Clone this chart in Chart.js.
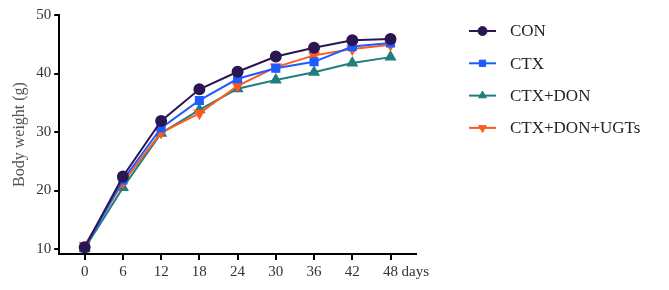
<!DOCTYPE html>
<html>
<head>
<meta charset="utf-8">
<script src="https://cdn.jsdelivr.net/npm/chart.js@4/dist/chart.umd.min.js"></script>
<style>
  html, body { margin: 0; padding: 0; background: #fff; }
  #wrap { width: 669px; height: 290px; }
</style>
</head>
<body>
<div id="wrap"><canvas id="myChart" width="669" height="290"></canvas></div>
<script>
// days of measurement
const days = [0, 6, 12, 18, 24, 30, 36, 42, 48];
const yTicks = [10, 20, 30, 40, 50];

// body weight (g) per group
const conWeight = [10.3, 22.4, 31.9, 37.3, 40.3, 42.9, 44.4, 45.7, 45.9];
const ctxWeight = [10.2, 21.8, 30.7, 35.4, 39.1, 40.9, 42.0, 44.6, 45.2];
const donWeight = [10.1, 20.5, 29.8, 33.8, 37.4, 38.9, 40.2, 41.8, 42.8];
const ugtWeight = [10.6, 21.4, 29.9, 33.2, 37.9, 41.1, 43.1, 44.2, 44.9];

const seriesNames = ['CON', 'CTX', 'CTX+DON', 'CTX+DON+UGTs'];

function toPoints(vals) {
  return days.map((d, i) => ({ x: d, y: vals[i] }));
}

const serif = '"Liberation Serif", "DejaVu Serif", serif';

const colours = ['#2b1654', '#1f5cff', '#1f7f7f', '#ff5a1e'];
const styles = ['circle', 'rect', 'triangle', 'triangle'];
const rotations = [0, 0, 0, 180];
const lists = [conWeight, ctxWeight, donWeight, ugtWeight];
const drawOrder = [0, 1, 3, 2];

const datasets = lists.map((vals, i) => ({
  label: seriesNames[i],
  data: toPoints(vals),
  borderColor: colours[i],
  backgroundColor: colours[i],
  pointBackgroundColor: colours[i],
  pointBorderColor: colours[i],
  pointStyle: styles[i],
  pointRotation: rotations[i],
  pointRadius: 5,
  borderWidth: 2,
  tension: 0,
  order: drawOrder[i]
}));

// legend at the right, line through marker, plus the "days" unit
const sideLegend = {
  id: 'sideLegend',
  afterDraw(chart) {
    const ctx = chart.ctx;
    ctx.save();
    chart.data.datasets.forEach((ds, i) => {
      const y = 31 + i * 32.3;
      ctx.strokeStyle = ds.borderColor;
      ctx.fillStyle = ds.backgroundColor;
      ctx.lineWidth = 2;
      ctx.beginPath();
      ctx.moveTo(469, y);
      ctx.lineTo(496, y);
      ctx.stroke();
      ctx.lineWidth = 1;
      Chart.helpers.drawPoint(ctx, { pointStyle: ds.pointStyle, radius: 4.5, rotation: ds.pointRotation, borderWidth: 1 }, 482.5, y);
      ctx.fillStyle = '#222';
      ctx.font = '17px ' + serif;
      ctx.textBaseline = 'middle';
      ctx.textAlign = 'left';
      ctx.fillText(ds.label, 510, y + 1);
    });
    const xs = chart.scales.x;
    ctx.fillStyle = '#333';
    ctx.font = '15px ' + serif;
    ctx.textBaseline = 'middle';
    ctx.textAlign = 'left';
    ctx.fillText('days', xs.getPixelForValue(48) + 11, 272);
    ctx.restore();
  }
};

new Chart(document.getElementById('myChart'), {
  type: 'line',
  data: { datasets },
  options: {
    responsive: false,
    animation: false,
    layout: { padding: { top: 15, right: 253, left: 10, bottom: 6 } },
    plugins: { legend: { display: false }, tooltip: { enabled: false } },
    scales: {
      x: {
        type: 'linear',
        min: -4,
        max: 52,
        afterBuildTicks: (s) => { s.ticks = days.map(v => ({ value: v })); },
        grid: { display: true, drawOnChartArea: false, drawTicks: true, tickLength: 6, color: '#000', lineWidth: 2 },
        border: { display: true, color: '#000', width: 2 },
        ticks: { color: '#333', font: { family: serif, size: 15 }, padding: 3, maxRotation: 0 }
      },
      y: {
        min: 9.15,
        max: 50,
        afterBuildTicks: (s) => { s.ticks = yTicks.map(v => ({ value: v })); },
        grid: { display: true, drawOnChartArea: false, drawTicks: true, tickLength: 5, color: '#000', lineWidth: 2 },
        border: { display: true, color: '#000', width: 2 },
        ticks: { color: '#333', font: { family: serif, size: 15 }, padding: 3 },
        title: { display: true, text: 'Body weight (g)', color: '#555', font: { family: serif, size: 16 }, padding: { top: 0, bottom: 4 } }
      }
    }
  },
  plugins: [sideLegend]
});
</script>
</body>
</html>
